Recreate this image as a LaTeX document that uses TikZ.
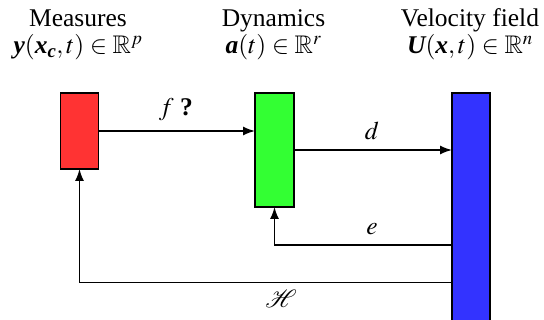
\documentclass[tikz,border=0pt]{standalone}
\usepackage{amsmath,amssymb,mathrsfs}
\usepackage{mathptmx}
\usepackage[no-math]{fontspec}
\setmainfont{Liberation Serif}
\usetikzlibrary{arrows.meta}
\newcommand{\bv}[1]{\text{\bfseries\itshape #1}}
\definecolor{boxred}{HTML}{FF3333}
\definecolor{boxgreen}{HTML}{33FF33}
\definecolor{boxblue}{HTML}{3333FF}
\tikzset{
  blockbox/.style={draw=black, line width=1.5pt, inner sep=0pt, outer sep=0pt},
  conn/.style={line width=1.5pt, -{Latex[length=12pt,width=9pt]}},
  lbl/.style={anchor=base, inner sep=0pt, font=\fontsize{25.5}{30}\selectfont},
  head/.style={anchor=base, inner sep=0pt, align=center, font=\fontsize{25.5}{27}\selectfont},
}
\begin{document}
\begin{tikzpicture}[x=1pt,y=-1pt]
\useasboundingbox (0,0) rectangle (544,320);
% boxes
\node[blockbox, fill=boxred, minimum width=38pt, minimum height=76pt] (red) at (79.5,131) {};
\node[blockbox, fill=boxgreen, minimum width=39pt, minimum height=114pt] (green) at (274.5,150) {};
\node[blockbox, fill=boxblue, minimum width=38pt, minimum height=250pt] (blue) at (471,218) {};
% headers
\node[head] (h1) at (78,54) {Measures\\$\bv{y}(\bv{x}_{\bv{c}},t)\in\mathbb{R}^p$};
\node[head] (h2) at (273.5,54) {Dynamics\\$\bv{a}(t)\in\mathbb{R}^r$};
\node[head] (h3) at (470,54) {Velocity field\\$\bv{U}(\bv{x},t)\in\mathbb{R}^n$};
% connectors
\draw[conn] (red.east) -- (red.east -| green.west);
\draw[conn] (green.east) -- (blue.west |- green.east);
\coordinate (ee) at (452,245);
\coordinate (hh) at (452,282.7);
\draw[conn] (ee) -| (green.south);
\draw[conn] (hh) -| (red.south);
% labels
\node[lbl] (lf) at (176,116) {$f$ \textbf{?}};
\node[lbl] (ld) at (372,140) {$d$};
\node[lbl] (le) at (372,235) {$e$};
\node[lbl] (lh) at (281,308) {$\mathscr{H}$};
\end{tikzpicture}
\end{document}
